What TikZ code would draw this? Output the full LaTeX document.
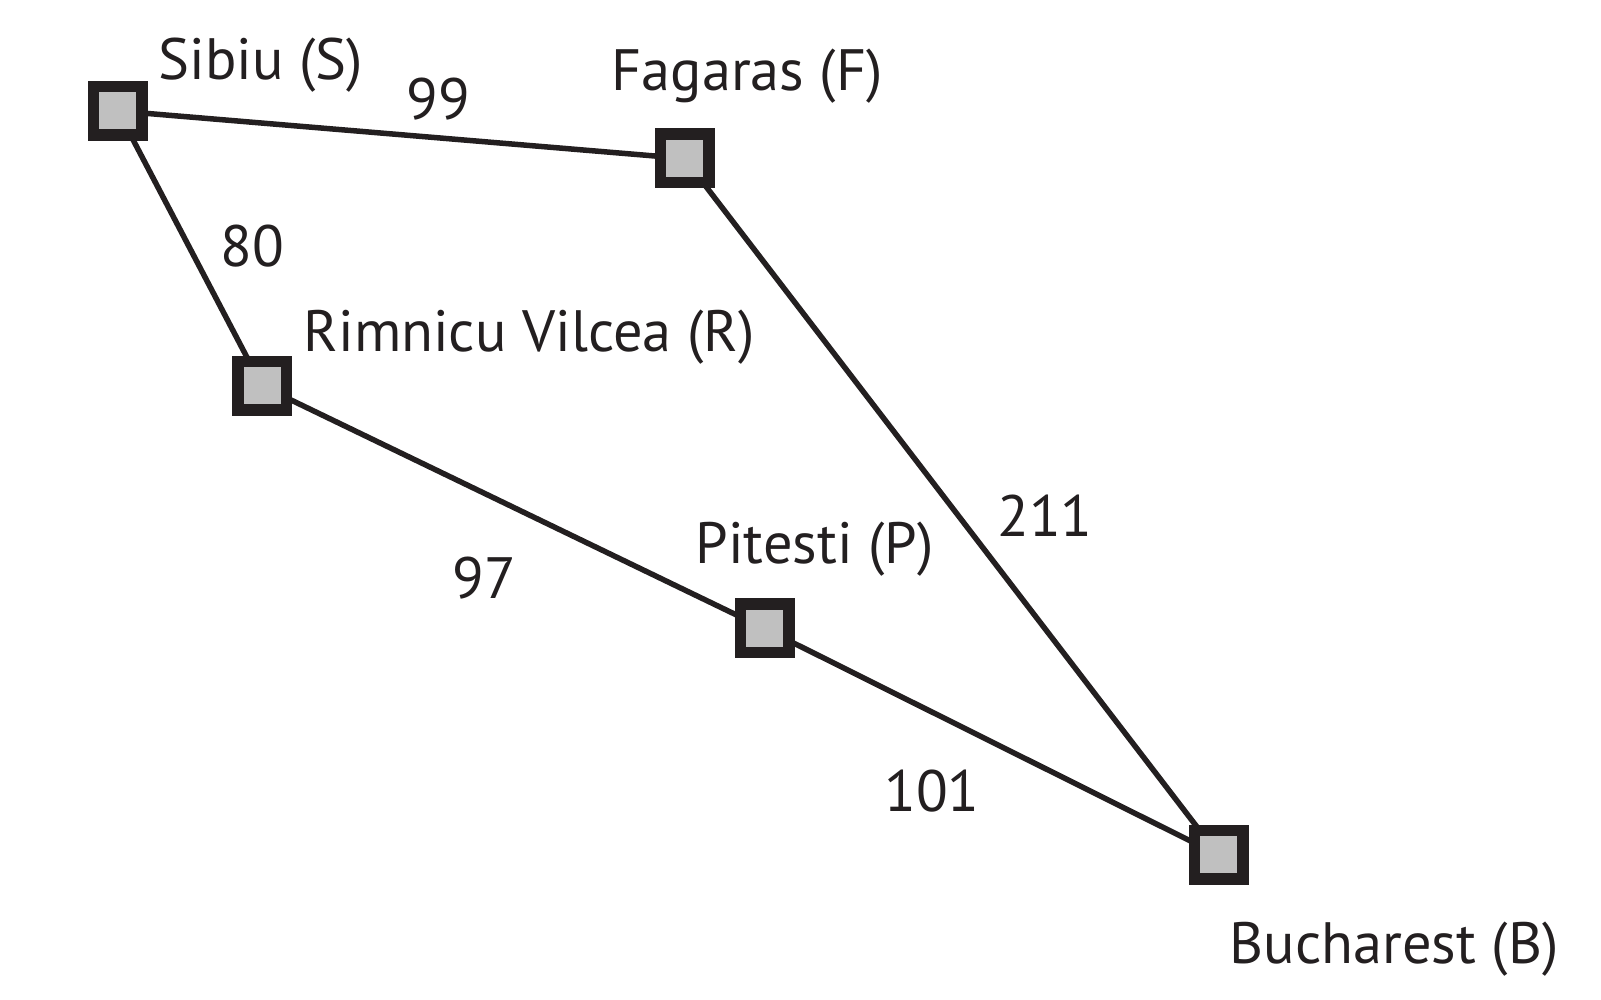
\documentclass[tikz,border=0pt]{standalone}
\usepackage{fontspec}
\setmainfont{PT Sans}
\usetikzlibrary{backgrounds}
\definecolor{ink}{HTML}{231F20}
\definecolor{boxgray}{HTML}{C0C0C0}

\begin{document}
\begin{tikzpicture}[
  font=\fontsize{16.6}{20}\selectfont,
  city/.style={draw=ink, fill=boxgray, line width=0.115cm, rectangle,
    minimum size=0.485cm, inner sep=0pt},
  road/.style={draw=ink, line width=0.055cm},
  citylabel/.style={anchor=base west, inner sep=0pt, text=ink},
  dist/.style={anchor=center, inner sep=0pt, text=ink},
]
\useasboundingbox (0,0) rectangle (16.01,-10);

% ---- cities ---------------------------------------------------------------
\node[city] (S) at (1.18,-1.11) {};
\node[city] (F) at (6.845,-1.585) {};
\node[city] (R) at (2.62,-3.86) {};
\node[city] (P) at (7.645,-6.285) {};
\node[city] (B) at (12.185,-8.55) {};

\node[citylabel] (Slab) at (1.58,-0.80) {Sibiu (S)};
\node[citylabel] (Flab) at (6.11,-0.91) {Fagaras (F)};
\node[citylabel] (Rlab) at (3.03,-3.52) {Rimnicu Vilcea (R)};
\node[citylabel] (Plab) at (6.95,-5.64) {Pitesti (P)};
\node[citylabel] (Blab) at (12.29,-9.64) {Bucharest (B)};

% ---- roads and their lengths ----------------------------------------------
\begin{scope}[on background layer]
  \foreach \a/\b in {S/F, S/R, R/P, P/B, F/B}
    \draw[road] (\a.center) -- (\b.center);
\end{scope}

\node[dist] (dSF) at (4.38,-0.99) {99};
\node[dist] (dSR) at (2.52,-2.46) {80};
\node[dist] (dRP) at (4.84,-5.78) {97};
\node[dist] (dFB) at (10.45,-5.16) {211};
\node[dist] (dPB) at (9.32,-7.91) {101};

\end{tikzpicture}
\end{document}
